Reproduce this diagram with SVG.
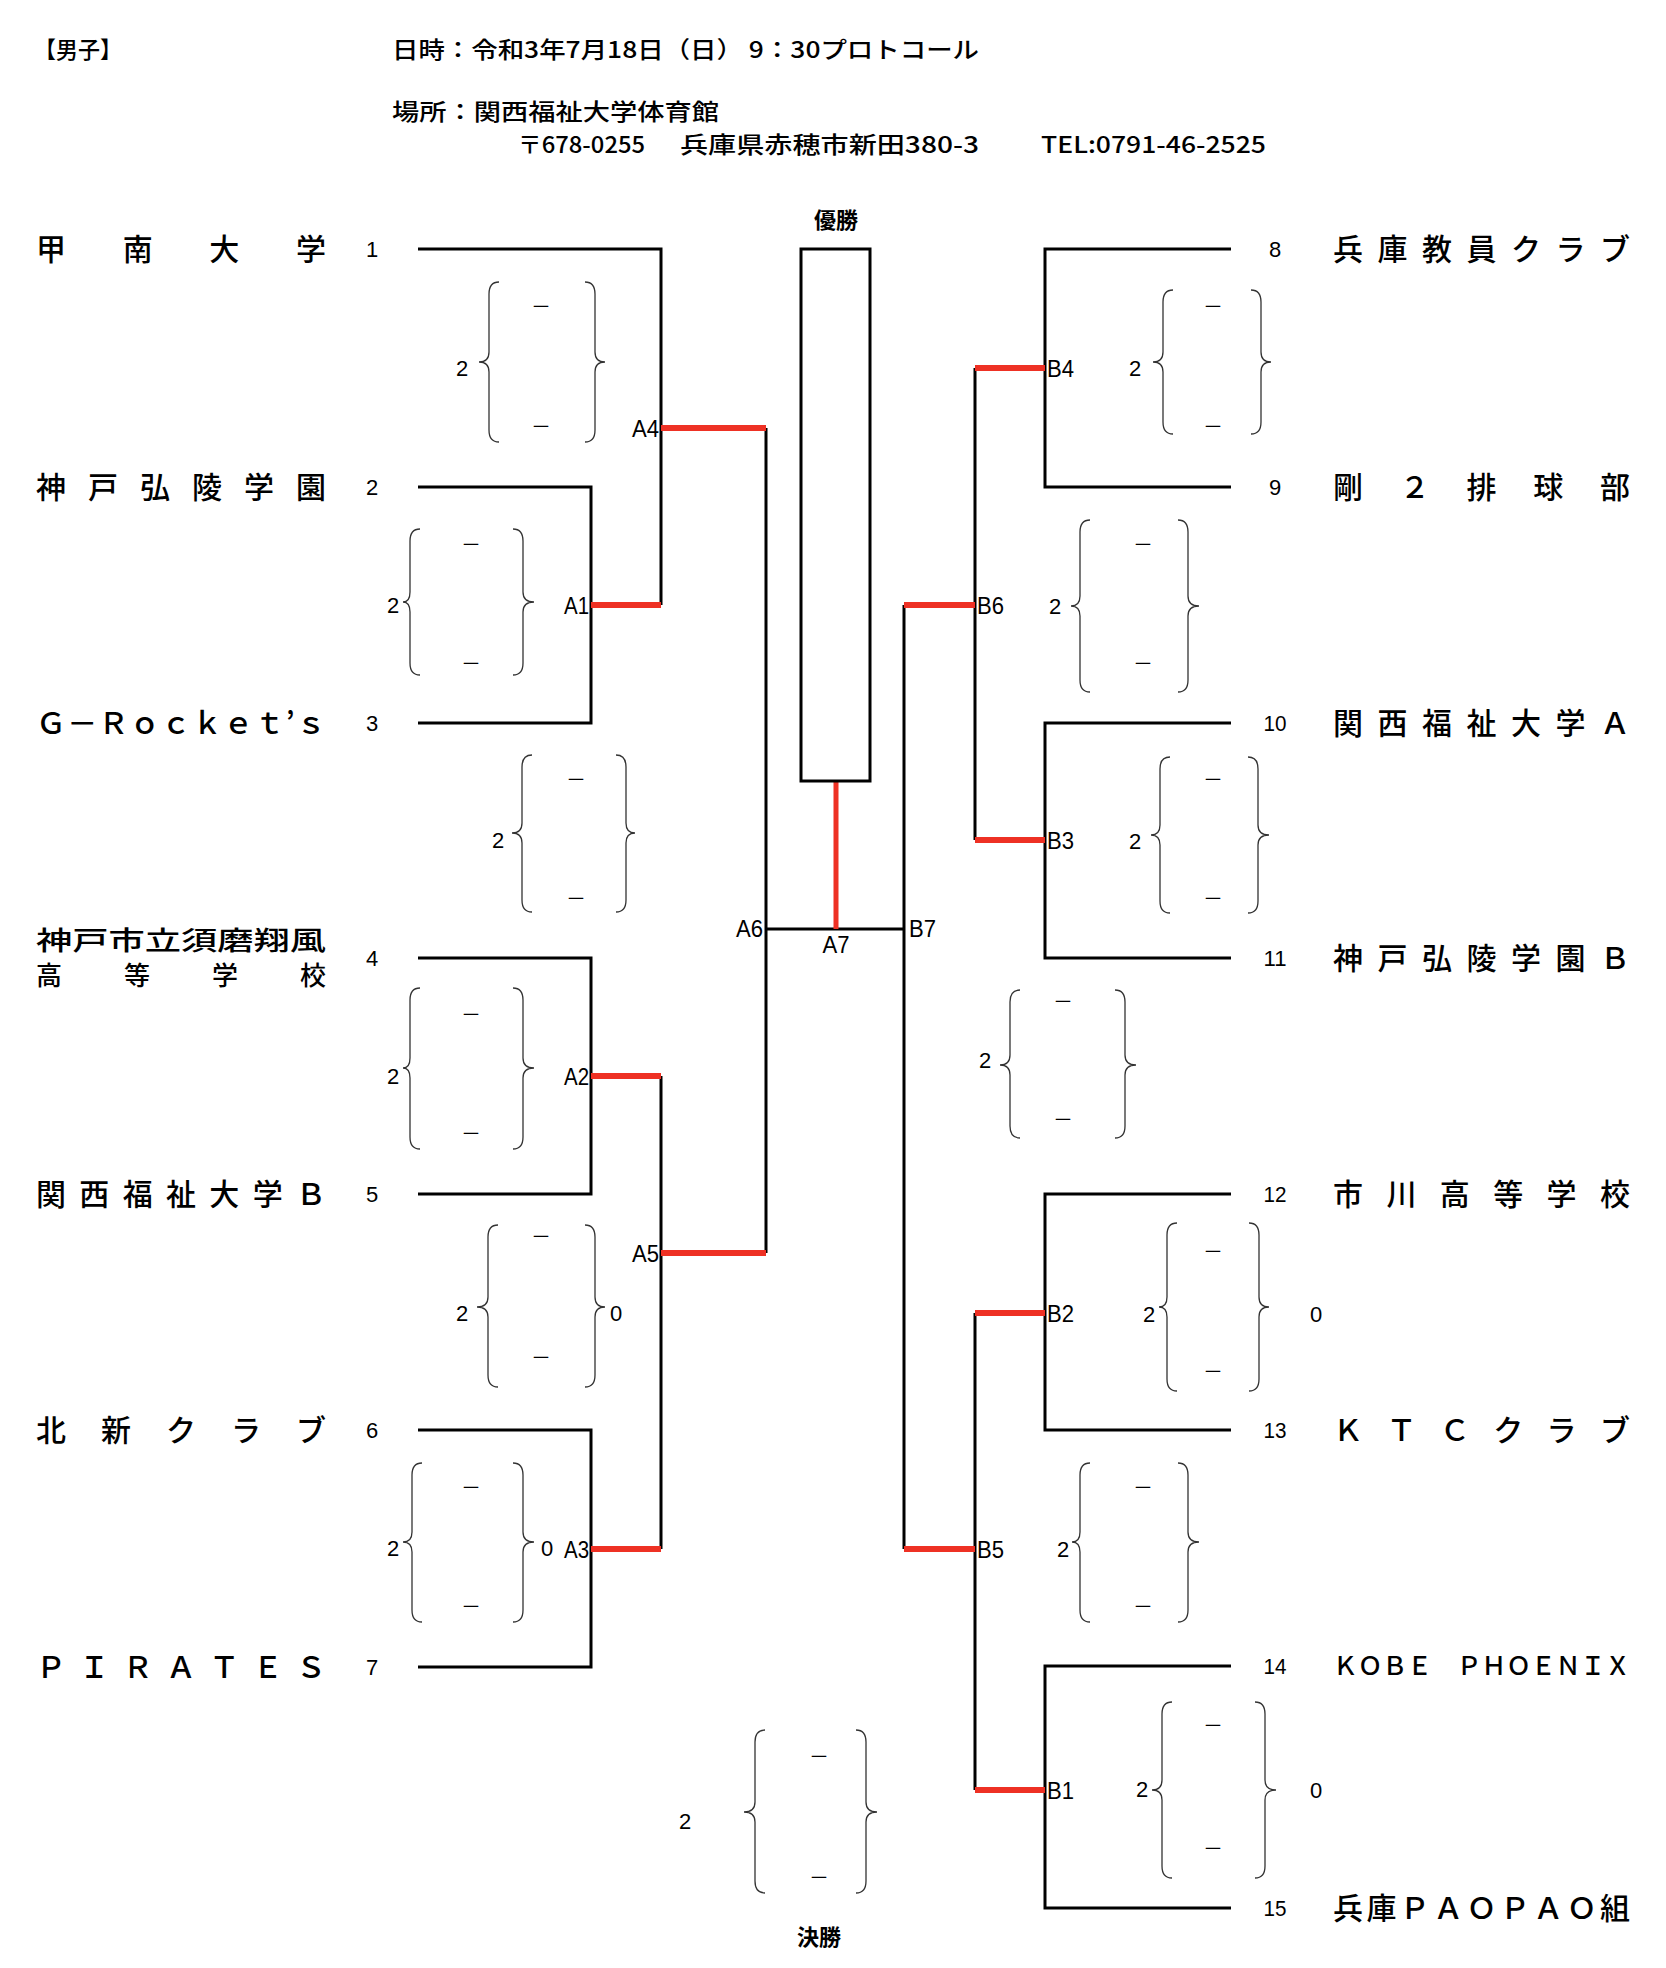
<svg xmlns="http://www.w3.org/2000/svg" width="1666" height="1968" viewBox="0 0 1666 1968">
<style>
.ln{stroke:#000;stroke-width:3;fill:none;stroke-linejoin:miter}
.rd{stroke:#ee3124;stroke-width:6;fill:none}
.br{stroke:#333;stroke-width:1.3;fill:none}
.nm{font-family:'Noto Sans CJK JP','Noto Sans CJK SC',sans-serif;font-size:30px;font-weight:500;fill:#000}
.hd{font-family:'Noto Sans CJK JP','Noto Sans CJK SC',sans-serif;font-size:23px;font-weight:500;fill:#000}
.lb{font-family:'Liberation Sans',Arial,sans-serif;font-size:24px;fill:#000}
.no{font-family:'Liberation Sans',Arial,sans-serif;font-size:22px;fill:#000;text-anchor:middle}
.sc{font-family:'Liberation Sans',Arial,sans-serif;font-size:22px;fill:#000;text-anchor:middle}
.ds{font-family:'Noto Sans CJK JP','Noto Sans CJK SC',sans-serif;font-size:20px;fill:#000;text-anchor:middle}
.bd{font-family:'Noto Sans CJK JP','Noto Sans CJK SC',sans-serif;font-size:22px;font-weight:bold;fill:#000;text-anchor:middle}
.e{text-anchor:end}
</style>

<g id="header">
<text class="hd" x="34" y="58" textLength="88" lengthAdjust="spacingAndGlyphs">【男子】</text>
<text class="hd" x="392" y="58" textLength="587" lengthAdjust="spacingAndGlyphs">日時：令和3年7月18日（日） 9：30プロトコール</text>
<text class="hd" x="392" y="120" textLength="327" lengthAdjust="spacingAndGlyphs">場所：関西福祉大学体育館</text>
<text class="hd" x="518" y="153" textLength="127" lengthAdjust="spacingAndGlyphs">〒678-0255</text>
<text class="hd" x="680" y="153" textLength="299" lengthAdjust="spacingAndGlyphs">兵庫県赤穂市新田380-3</text>
<text class="hd" x="1041" y="153" textLength="225" lengthAdjust="spacingAndGlyphs">TEL:0791-46-2525</text>
</g>

<g id="connectors">
<polyline class="ln" points="418,249 661,249 661,605"/>
<polyline class="ln" points="418,487 591,487 591,723 418,723"/>
<polyline class="ln" points="418,958 591,958 591,1194 418,1194"/>
<polyline class="ln" points="418,1430 591,1430 591,1667 418,1667"/>
<line class="ln" x1="661" y1="1076" x2="661" y2="1549"/>
<line class="ln" x1="766" y1="428" x2="766" y2="1253"/>
<line class="ln" x1="766" y1="929" x2="904" y2="929"/>
<line class="ln" x1="904" y1="605" x2="904" y2="1549"/>
<polyline class="ln" points="1231,249 1045,249 1045,487 1231,487"/>
<polyline class="ln" points="1231,723 1045,723 1045,958 1231,958"/>
<polyline class="ln" points="1231,1194 1045,1194 1045,1430 1231,1430"/>
<polyline class="ln" points="1231,1666 1045,1666 1045,1908 1231,1908"/>
<line class="ln" x1="975" y1="368" x2="975" y2="840"/>
<line class="ln" x1="975" y1="1313" x2="975" y2="1790"/>
<line class="rd" x1="591" y1="605" x2="661" y2="605"/>
<line class="rd" x1="661" y1="428" x2="766" y2="428"/>
<line class="rd" x1="591" y1="1076" x2="661" y2="1076"/>
<line class="rd" x1="591" y1="1549" x2="661" y2="1549"/>
<line class="rd" x1="661" y1="1253" x2="766" y2="1253"/>
<line class="rd" x1="836" y1="781" x2="836" y2="929" style="stroke-width:5"/>
<line class="rd" x1="975" y1="368" x2="1045" y2="368"/>
<line class="rd" x1="904" y1="605" x2="975" y2="605"/>
<line class="rd" x1="975" y1="840" x2="1045" y2="840"/>
<line class="rd" x1="975" y1="1313" x2="1045" y2="1313"/>
<line class="rd" x1="904" y1="1549" x2="975" y2="1549"/>
<line class="rd" x1="975" y1="1790" x2="1045" y2="1790"/>
</g>

<g id="champion">
<rect x="801" y="249" width="69" height="532" class="ln"/>
<text class="bd" x="836" y="228">優勝</text>
</g>

<g id="team-1"><text class="nm" x="36" y="260" textLength="290" lengthAdjust="spacing">甲南大学</text><text class="no" x="372" y="257">1</text></g>
<g id="team-2"><text class="nm" x="36" y="498" textLength="290" lengthAdjust="spacing">神戸弘陵学園</text><text class="no" x="372" y="495">2</text></g>
<g id="team-3"><text class="nm" x="36" y="734" textLength="290" lengthAdjust="spacing">Ｇ－Ｒｏｃｋｅｔ’ｓ</text><text class="no" x="372" y="731">3</text></g>
<g id="team-4"><text class="nm" x="36" y="950" textLength="290" lengthAdjust="spacingAndGlyphs" style="font-size:26px">神戸市立須磨翔風</text><text class="nm" x="36" y="985" textLength="290" lengthAdjust="spacing" style="font-size:26px">高等学校</text><text class="no" x="372" y="966">4</text></g>
<g id="team-5"><text class="nm" x="36" y="1205" textLength="290" lengthAdjust="spacing">関西福祉大学Ｂ</text><text class="no" x="372" y="1202">5</text></g>
<g id="team-6"><text class="nm" x="36" y="1441" textLength="290" lengthAdjust="spacing">北新クラブ</text><text class="no" x="372" y="1438">6</text></g>
<g id="team-7"><text class="nm" x="36" y="1678" textLength="290" lengthAdjust="spacing">ＰＩＲＡＴＥＳ</text><text class="no" x="372" y="1675">7</text></g>

<g id="team-8"><text class="no" x="1275" y="257">8</text><text class="nm" x="1333" y="260" textLength="297" lengthAdjust="spacing">兵庫教員クラブ</text></g>
<g id="team-9"><text class="no" x="1275" y="495">9</text><text class="nm" x="1333" y="498" textLength="297" lengthAdjust="spacing">剛２排球部</text></g>
<g id="team-10"><text class="no" x="1275" y="731" textLength="23" lengthAdjust="spacingAndGlyphs">10</text><text class="nm" x="1333" y="734" textLength="297" lengthAdjust="spacing">関西福祉大学Ａ</text></g>
<g id="team-11"><text class="no" x="1275" y="966" textLength="23" lengthAdjust="spacingAndGlyphs">11</text><text class="nm" x="1333" y="969" textLength="297" lengthAdjust="spacing">神戸弘陵学園Ｂ</text></g>
<g id="team-12"><text class="no" x="1275" y="1202" textLength="23" lengthAdjust="spacingAndGlyphs">12</text><text class="nm" x="1333" y="1205" textLength="297" lengthAdjust="spacing">市川高等学校</text></g>
<g id="team-13"><text class="no" x="1275" y="1438" textLength="23" lengthAdjust="spacingAndGlyphs">13</text><text class="nm" x="1333" y="1441" textLength="297" lengthAdjust="spacing">ＫＴＣクラブ</text></g>
<g id="team-14"><text class="no" x="1275" y="1674" textLength="23" lengthAdjust="spacingAndGlyphs">14</text><text class="nm" x="1333" y="1675" textLength="297" lengthAdjust="spacingAndGlyphs" style="font-size:25px">ＫＯＢＥ　ＰＨＯＥＮＩＸ</text></g>
<g id="team-15"><text class="no" x="1275" y="1916" textLength="23" lengthAdjust="spacingAndGlyphs">15</text><text class="nm" x="1333" y="1919" textLength="297" lengthAdjust="spacing">兵庫ＰＡＯＰＡＯ組</text></g>

<g id="match-A4">
<text class="lb e" x="659" y="437" textLength="27" lengthAdjust="spacingAndGlyphs">A4</text>
<path class="br" d="M499,282 Q489,282 489,294 L489,352 Q489,362 479,362 Q489,362 489,372 L489,430 Q489,442 499,442"/>
<path class="br" d="M585,282 Q595,282 595,294 L595,352 Q595,362 605,362 Q595,362 595,372 L595,430 Q595,442 585,442"/>
<text class="sc" x="462" y="376">2</text>
<text class="ds" x="541" y="314">－</text><text class="ds" x="541" y="434">－</text>
</g>
<g id="match-A1">
<text class="lb e" x="589" y="614" textLength="25" lengthAdjust="spacingAndGlyphs">A1</text>
<path class="br" d="M420,529 Q410,529 410,541 L410,592 Q410,602 403,602 Q410,602 410,612 L410,663 Q410,675 420,675"/>
<path class="br" d="M513,529 Q523,529 523,541 L523,592 Q523,602 534,602 Q523,602 523,612 L523,663 Q523,675 513,675"/>
<text class="sc" x="393" y="613">2</text>
<text class="ds" x="471" y="552">－</text><text class="ds" x="471" y="671">－</text>
</g>
<g id="match-A6">
<text class="lb e" x="763" y="937" textLength="27" lengthAdjust="spacingAndGlyphs">A6</text>
<path class="br" d="M532,755 Q522,755 522,767 L522,823 Q522,833 512,833 Q522,833 522,843 L522,900 Q522,912 532,912"/>
<path class="br" d="M616,755 Q626,755 626,767 L626,823 Q626,833 635,833 Q626,833 626,843 L626,900 Q626,912 616,912"/>
<text class="sc" x="498" y="848">2</text>
<text class="ds" x="576" y="787">－</text><text class="ds" x="576" y="906">－</text>
</g>
<g id="match-A2">
<text class="lb e" x="589" y="1085" textLength="25" lengthAdjust="spacingAndGlyphs">A2</text>
<path class="br" d="M420,988 Q410,988 410,1000 L410,1058 Q410,1068 403,1068 Q410,1068 410,1078 L410,1137 Q410,1149 420,1149"/>
<path class="br" d="M513,988 Q523,988 523,1000 L523,1058 Q523,1068 534,1068 Q523,1068 523,1078 L523,1137 Q523,1149 513,1149"/>
<text class="sc" x="393" y="1084">2</text>
<text class="ds" x="471" y="1022">－</text><text class="ds" x="471" y="1141">－</text>
</g>
<g id="match-A5">
<text class="lb e" x="659" y="1262" textLength="27" lengthAdjust="spacingAndGlyphs">A5</text>
<path class="br" d="M498,1225 Q488,1225 488,1237 L488,1297 Q488,1307 477,1307 Q488,1307 488,1317 L488,1375 Q488,1387 498,1387"/>
<path class="br" d="M585,1225 Q595,1225 595,1237 L595,1297 Q595,1307 605,1307 Q595,1307 595,1317 L595,1375 Q595,1387 585,1387"/>
<text class="sc" x="462" y="1321">2</text><text class="sc" x="616" y="1321">0</text>
<text class="ds" x="541" y="1244">－</text><text class="ds" x="541" y="1365">－</text>
</g>
<g id="match-A3">
<text class="lb e" x="589" y="1558" textLength="25" lengthAdjust="spacingAndGlyphs">A3</text>
<path class="br" d="M422,1463 Q412,1463 412,1475 L412,1532 Q412,1542 403,1542 Q412,1542 412,1552 L412,1610 Q412,1622 422,1622"/>
<path class="br" d="M513,1463 Q523,1463 523,1475 L523,1532 Q523,1542 534,1542 Q523,1542 523,1552 L523,1610 Q523,1622 513,1622"/>
<text class="sc" x="393" y="1556">2</text><text class="sc" x="547" y="1556">0</text>
<text class="ds" x="471" y="1495">－</text><text class="ds" x="471" y="1614">－</text>
</g>
<g id="match-A7">
<text class="lb" x="836" y="953" text-anchor="middle" textLength="27" lengthAdjust="spacingAndGlyphs">A7</text>
</g>
<g id="match-B7">
<text class="lb" x="909" y="937" textLength="27" lengthAdjust="spacingAndGlyphs">B7</text>
<path class="br" d="M1020,990 Q1010,990 1010,1002 L1010,1055 Q1010,1065 1000,1065 Q1010,1065 1010,1075 L1010,1126 Q1010,1138 1020,1138"/>
<path class="br" d="M1115,990 Q1125,990 1125,1002 L1125,1055 Q1125,1065 1136,1065 Q1125,1065 1125,1075 L1125,1126 Q1125,1138 1115,1138"/>
<text class="sc" x="985" y="1068">2</text>
<text class="ds" x="1063" y="1009">－</text><text class="ds" x="1063" y="1127">－</text>
</g>
<g id="match-B4">
<text class="lb" x="1047" y="377" textLength="27" lengthAdjust="spacingAndGlyphs">B4</text>
<path class="br" d="M1173,290 Q1163,290 1163,302 L1163,352 Q1163,362 1153,362 Q1163,362 1163,372 L1163,422 Q1163,434 1173,434"/>
<path class="br" d="M1251,290 Q1261,290 1261,302 L1261,352 Q1261,362 1271,362 Q1261,362 1261,372 L1261,422 Q1261,434 1251,434"/>
<text class="sc" x="1135" y="376">2</text>
<text class="ds" x="1213" y="314">－</text><text class="ds" x="1213" y="434">－</text>
</g>
<g id="match-B6">
<text class="lb" x="977" y="614" textLength="27" lengthAdjust="spacingAndGlyphs">B6</text>
<path class="br" d="M1090,520 Q1080,520 1080,532 L1080,596 Q1080,606 1071,606 Q1080,606 1080,616 L1080,680 Q1080,692 1090,692"/>
<path class="br" d="M1178,520 Q1188,520 1188,532 L1188,596 Q1188,606 1199,606 Q1188,606 1188,616 L1188,680 Q1188,692 1178,692"/>
<text class="sc" x="1055" y="614">2</text>
<text class="ds" x="1143" y="552">－</text><text class="ds" x="1143" y="671">－</text>
</g>
<g id="match-B3">
<text class="lb" x="1047" y="849" textLength="27" lengthAdjust="spacingAndGlyphs">B3</text>
<path class="br" d="M1170,757 Q1160,757 1160,769 L1160,825 Q1160,835 1151,835 Q1160,835 1160,845 L1160,901 Q1160,913 1170,913"/>
<path class="br" d="M1248,757 Q1258,757 1258,769 L1258,825 Q1258,835 1269,835 Q1258,835 1258,845 L1258,901 Q1258,913 1248,913"/>
<text class="sc" x="1135" y="849">2</text>
<text class="ds" x="1213" y="787">－</text><text class="ds" x="1213" y="906">－</text>
</g>
<g id="match-B2">
<text class="lb" x="1047" y="1322" textLength="27" lengthAdjust="spacingAndGlyphs">B2</text>
<path class="br" d="M1177,1223 Q1167,1223 1167,1235 L1167,1297 Q1167,1307 1159,1307 Q1167,1307 1167,1317 L1167,1379 Q1167,1391 1177,1391"/>
<path class="br" d="M1249,1223 Q1259,1223 1259,1235 L1259,1297 Q1259,1307 1269,1307 Q1259,1307 1259,1317 L1259,1379 Q1259,1391 1249,1391"/>
<text class="sc" x="1149" y="1322">2</text><text class="sc" x="1316" y="1322">0</text>
<text class="ds" x="1213" y="1259">－</text><text class="ds" x="1213" y="1379">－</text>
</g>
<g id="match-B5">
<text class="lb" x="977" y="1558" textLength="27" lengthAdjust="spacingAndGlyphs">B5</text>
<path class="br" d="M1090,1463 Q1080,1463 1080,1475 L1080,1532 Q1080,1542 1072,1542 Q1080,1542 1080,1552 L1080,1610 Q1080,1622 1090,1622"/>
<path class="br" d="M1178,1463 Q1188,1463 1188,1475 L1188,1532 Q1188,1542 1199,1542 Q1188,1542 1188,1552 L1188,1610 Q1188,1622 1178,1622"/>
<text class="sc" x="1063" y="1557">2</text>
<text class="ds" x="1143" y="1495">－</text><text class="ds" x="1143" y="1614">－</text>
</g>
<g id="match-B1">
<text class="lb" x="1047" y="1799" textLength="27" lengthAdjust="spacingAndGlyphs">B1</text>
<path class="br" d="M1172,1702 Q1162,1702 1162,1714 L1162,1780 Q1162,1790 1152,1790 Q1162,1790 1162,1800 L1162,1866 Q1162,1878 1172,1878"/>
<path class="br" d="M1255,1702 Q1265,1702 1265,1714 L1265,1780 Q1265,1790 1276,1790 Q1265,1790 1265,1800 L1265,1866 Q1265,1878 1255,1878"/>
<text class="sc" x="1142" y="1797">2</text><text class="sc" x="1316" y="1798">0</text>
<text class="ds" x="1213" y="1733">－</text><text class="ds" x="1213" y="1856">－</text>
</g>
<g id="final">
<path class="br" d="M765,1730 Q755,1730 755,1742 L755,1802 Q755,1812 744,1812 Q755,1812 755,1822 L755,1881 Q755,1893 765,1893"/>
<path class="br" d="M856,1730 Q866,1730 866,1742 L866,1802 Q866,1812 877,1812 Q866,1812 866,1822 L866,1881 Q866,1893 856,1893"/>
<text class="sc" x="685" y="1829">2</text>
<text class="ds" x="819" y="1764">－</text><text class="ds" x="819" y="1885">－</text>
<text class="bd" x="819" y="1945">決勝</text>
</g>
</svg>
